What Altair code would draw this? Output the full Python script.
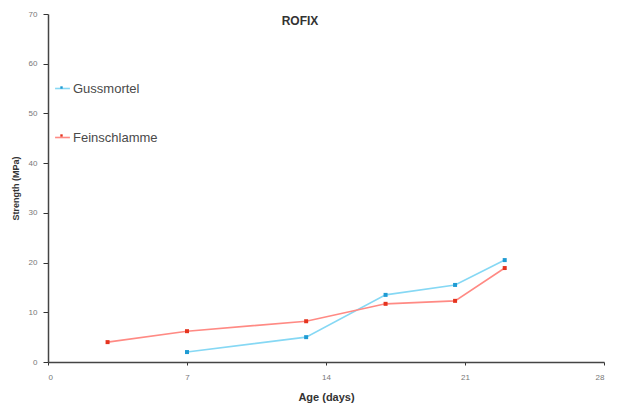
import altair as alt
import pandas as pd

series_names = ["Gussmortel", "Feinschlamme"]
guss_age = [7, 13, 17, 20.5, 23]
guss_val = [2.0, 5.0, 13.5, 15.5, 20.5]
fein_age = [3, 7, 13, 17, 20.5, 23]
fein_val = [4.0, 6.2, 8.2, 11.7, 12.3, 18.9]
x_ticks = [0, 7, 14, 21, 28]
y_ticks = [0, 10, 20, 30, 40, 50, 60, 70]

rows = [{"Age": a, "Value": v, "Series": series_names[0]} for a, v in zip(guss_age, guss_val)]
rows += [{"Age": a, "Value": v, "Series": series_names[1]} for a, v in zip(fein_age, fein_val)]
df = pd.DataFrame(rows)

line_colors = ["#86d8f4", "#ff8a84"]
point_colors = ["#1f9bd3", "#e5341f"]

x_enc = alt.X("Age:Q", scale=alt.Scale(domain=[0, 28], nice=False),
              axis=alt.Axis(values=x_ticks, title="Age (days)", grid=False,
                            domainColor="#444444", domainWidth=1.5, tickColor="#333333",
                            tickSize=3, labelColor="#777777", labelFontSize=8,
                            labelFont="Arial", labelPadding=8,
                            titleFont="Arial", titleFontSize=11, titleFontWeight="bold",
                            titleColor="#333333", titlePadding=10))
y_enc = alt.Y("Value:Q", scale=alt.Scale(domain=[0, 70], nice=False),
              axis=alt.Axis(values=y_ticks, title="Strength (MPa)", grid=False,
                            domainColor="#444444", domainWidth=1.5, tickColor="#333333",
                            tickSize=5, labelColor="#777777", labelFontSize=8,
                            labelFont="Arial", labelPadding=6,
                            titleFont="Arial", titleFontSize=9, titleFontWeight="bold",
                            titleColor="#333333", titlePadding=8))

common_legend = dict(title=None, orient="none", legendX=6, legendY=66,
                     symbolSize=220, labelFont="Arial", labelFontSize=13,
                     rowPadding=33, labelOffset=2)

lines = alt.Chart(df).mark_line(strokeWidth=1.6).encode(
    x=x_enc, y=y_enc,
    color=alt.Color("Series:N", sort=series_names,
                    scale=alt.Scale(domain=series_names, range=line_colors),
                    legend=alt.Legend(symbolType="stroke", symbolStrokeWidth=1.6,
                                      labelColor="#4a4a4a", **common_legend)),
)

points = alt.Chart(df).mark_square(size=16, opacity=1).encode(
    x="Age:Q", y="Value:Q",
    fill=alt.Fill("Series:N", sort=series_names,
                  scale=alt.Scale(domain=series_names, range=point_colors),
                  legend=alt.Legend(symbolType="M-0.16,-0.16H0.16V0.16H-0.16Z",
                                    symbolStrokeWidth=0, labelExpr="''",
                                    labelColor="#4a4a4a", **common_legend)),
)

title = alt.Chart(pd.DataFrame({"t": ["ROFIX"]})).mark_text(
    font="Arial", fontSize=12, fontWeight="bold", color="#333333", baseline="top"
).encode(text="t:N", x=alt.value(252), y=alt.value(2))

chart = alt.layer(lines, points, title).properties(
    width=556, height=348,
    autosize=alt.AutoSizeParams(type="none"),
    padding={"left": 40, "top": 6, "right": 18, "bottom": 45},
    background="white",
).resolve_scale(color="independent", fill="independent").configure_view(stroke=None)

chart.save("out.html", embed_options={"renderer": "svg", "actions": False})
